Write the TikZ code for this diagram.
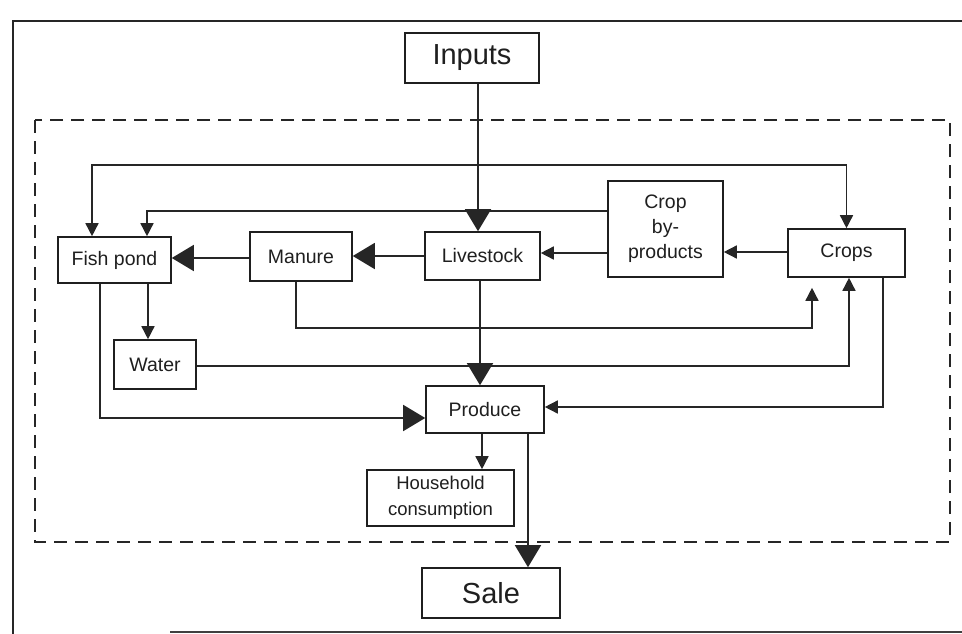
\documentclass[tikz,border=0pt]{standalone}
\usepackage{fontspec}
\setmainfont{Liberation Sans}
\usetikzlibrary{arrows.meta}
\begin{document}
\begin{tikzpicture}[x=1pt,y=-1pt,
  box/.style={draw=black!88,line width=1.6pt,fill=white,inner sep=0pt,align=center,font=\fontsize{19.5}{25}\selectfont,text=black!88},
  bigbox/.style={box,font=\fontsize{29}{32}\selectfont},
  link/.style={draw=black!85,line width=1.5pt},
  bigarrow/.style={link,-{Triangle[length=22pt,width=26pt]}},
  smallarrow/.style={link,-{Triangle[length=13pt,width=13pt]}}]
\useasboundingbox (0,0) rectangle (962,634);
% outer frame
\draw[black!85,line width=2pt] (13,634) -- (13,21) -- (962,21);
\draw[black!75,line width=2.4pt] (170,632) -- (962,632);
% dashed system boundary
\draw[black!85,line width=1.8pt,dash pattern=on 13pt off 8pt] (35,120) rectangle (950,542);
% nodes
\node[bigbox,minimum width=134pt,minimum height=50pt] (inputs) at (472,58) {Inputs};
\node[box,minimum width=113pt,minimum height=46pt] (fish) at (114.5,260) {Fish pond};
\node[box,minimum width=102pt,minimum height=49pt] (manure) at (301,256.5) {Manure};
\node[box,minimum width=115pt,minimum height=48pt] (live) at (482.5,256) {Livestock};
\node[box,minimum width=115pt,minimum height=96pt] (byprod) at (665.5,229) {Crop\\by-\\products};
\node[box,minimum width=117pt,minimum height=48pt] (crops) at (846.5,253) {Crops};
\node[box,minimum width=82pt,minimum height=49pt] (water) at (155,364.5) {Water};
\node[box,minimum width=118pt,minimum height=47pt] (produce) at (485,409.5) {Produce};
\node[box,minimum width=147pt,minimum height=56pt,font=\fontsize{18.5}{26}\selectfont] (house) at (440.5,498) {Household\\consumption};
\node[bigbox,minimum width=138pt,minimum height=50pt] (sale) at (491,593) {Sale};
% helper coordinates
\coordinate (xin) at (478,0);
\coordinate (j1) at (478,165);
\coordinate (xf1) at (92,0);
\coordinate (xf2) at (147,0);
\coordinate (xw) at (148,0);
\coordinate (xfp) at (100,0);
\coordinate (xm) at (296,0);
\coordinate (xc1) at (812,0);
\coordinate (xc2) at (849,0);
\coordinate (xc3) at (883,0);
\coordinate (xlp) at (480,0);
\coordinate (xph) at (482,0);
\coordinate (xps) at (528,0);
% connectors
\draw[bigarrow] (xin |- inputs.south) -- (xin |- live.north);
\draw[smallarrow] (j1) -| (xf1 |- fish.north);
\draw[smallarrow] (j1) -| (crops.north);
\draw[smallarrow] (byprod.west |- 0,211) -| (xf2 |- fish.north);
\draw[smallarrow] (crops.west |- 0,252) -- (byprod.east |- 0,252);
\draw[smallarrow] (byprod.west |- 0,253) -- (live.east |- 0,253);
\draw[bigarrow] (live.west |- 0,256) -- (manure.east |- 0,256);
\draw[bigarrow] (manure.west |- 0,258) -- (fish.east |- 0,258);
\draw[smallarrow] (xw |- fish.south) -- (xw |- water.north);
\draw[smallarrow] (xm |- manure.south) |- (0,328 -| xc1) -- ([yshift=-10pt]xc1 |- crops.south);
\draw[smallarrow] (water.east |- 0,366) -| (xc2 |- crops.south);
\draw[bigarrow] (xfp |- fish.south) |- (produce.west |- 0,418);
\draw[bigarrow] (xlp |- live.south) -- (xlp |- produce.north);
\draw[smallarrow] (xc3 |- crops.south) |- (produce.east |- 0,407);
\draw[smallarrow] (xph |- produce.south) -- (xph |- house.north);
\draw[bigarrow] (xps |- produce.south) -- (xps |- sale.north);
\end{tikzpicture}
\end{document}
